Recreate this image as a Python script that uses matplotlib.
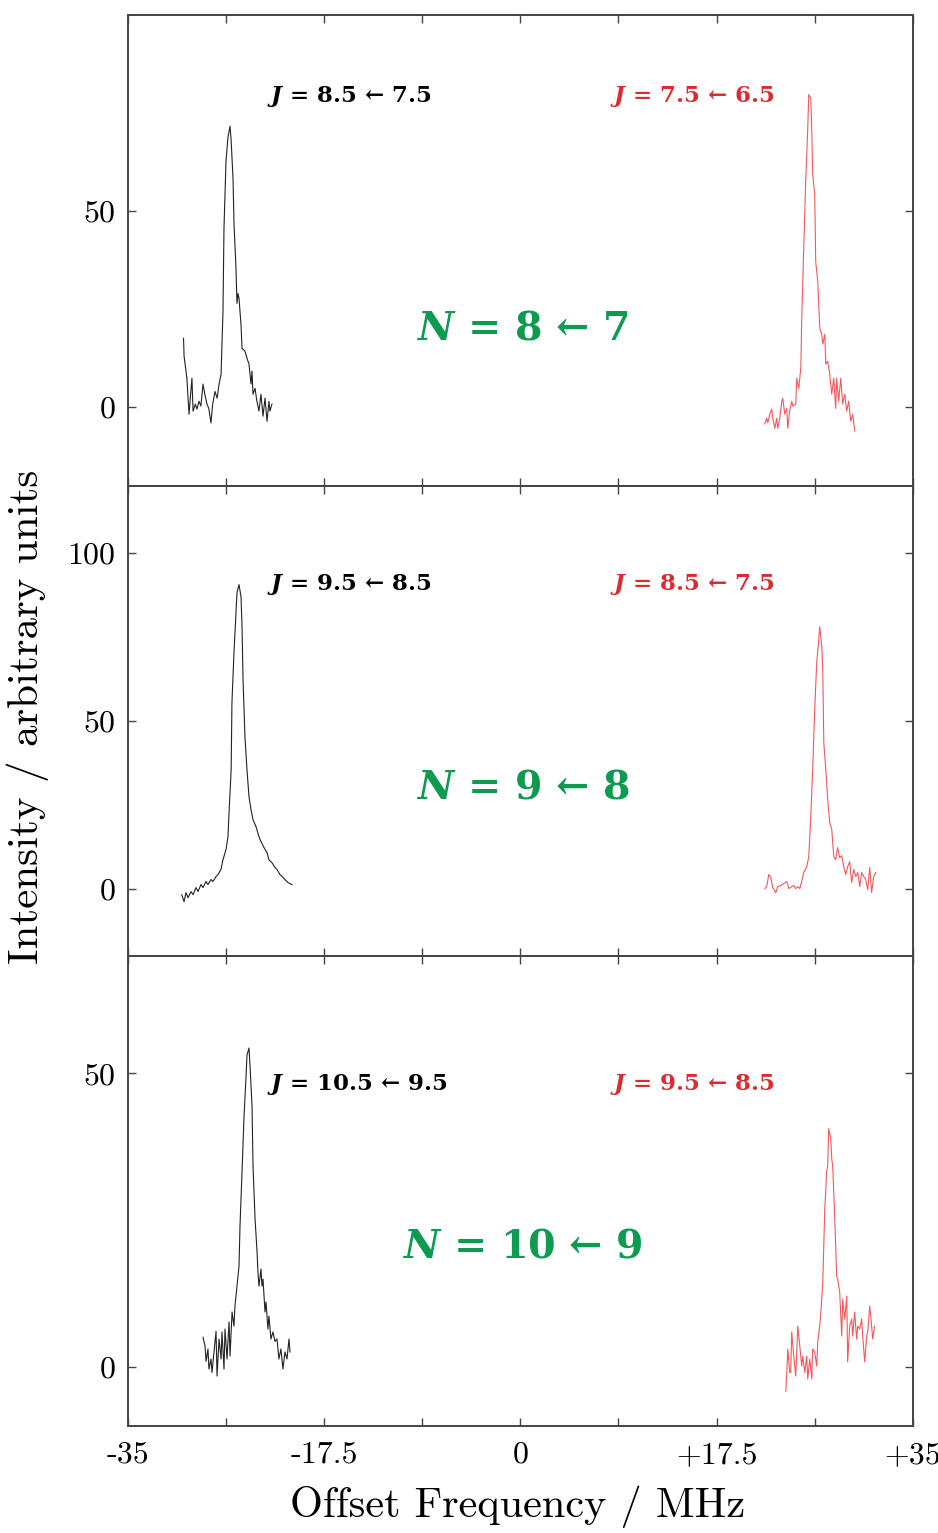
import numpy as np
import matplotlib
matplotlib.use("Agg")
import matplotlib.pyplot as plt

plt.rcParams['mathtext.fontset'] = 'custom'
plt.rcParams['mathtext.rm'] = 'DejaVu Serif'
plt.rcParams['mathtext.bf'] = 'DejaVu Serif:bold'
plt.rcParams['mathtext.bfit'] = 'DejaVu Serif:italic:bold'
plt.rcParams['axes.unicode_minus'] = False

# panel 1 : N = 8 <- 7
x1_low = [-30.05, -30.0, -29.83, -29.75, -29.56, -29.47, -29.3, -29.2, -29.0, -28.85,
          -28.67, -28.5, -28.31, -28.15, -27.96, -27.8, -27.6, -27.45, -27.24, -27.05,
          -26.88, -26.7, -26.53, -26.44, -26.26, -26.08, -25.9, -25.8, -25.63, -25.55,
          -25.37, -25.28, -25.19, -25.1, -24.92, -24.83, -24.57, -24.39, -24.21, -24.03,
          -23.94, -23.85, -23.67, -23.5, -23.32, -23.14, -22.96, -22.78, -22.6, -22.43,
          -22.34, -22.16]
y1_low = [17.6, 13.0, 9.2, 7.4, -1.8, 1.5, 7.4, -1.0, 0.8, -0.5,
          1.5, 0.3, 5.9, 3.3, 0.8, -0.3, -4.0, 0.8, 4.0, 2.3,
          5.9, 8.4, 24.5, 45.7, 62.8, 69.0, 71.7, 68.0, 58.0, 47.0,
          35.5, 26.5, 29.0, 27.8, 21.0, 15.0, 14.3, 12.5, 11.0, 5.9,
          9.2, 3.3, 4.8, 1.5, -1.0, 3.3, -2.3, 2.3, -3.6, 1.5,
          -1.0, 0.8]
x1_up = [21.8, 21.98, 22.07, 22.25, 22.43, 22.52, 22.7, 22.87, 22.96, 23.14,
         23.32, 23.41, 23.59, 23.77, 23.86, 24.03, 24.21, 24.3, 24.57, 24.66,
         24.84, 25.02, 25.1, 25.28, 25.46, 25.64, 25.73, 25.91, 26.0, 26.08,
         26.26, 26.35, 26.53, 26.71, 26.89, 26.98, 27.16, 27.25, 27.42, 27.6,
         27.78, 27.96, 28.13, 28.22, 28.4, 28.58, 28.76, 28.94, 29.11, 29.29,
         29.47, 29.65, 29.83]
y1_up = [-4.3, -2.8, -4.0, -1.8, -0.5, -2.8, -5.4, -2.8, -5.4, -2.8,
         1.5, 2.3, -1.8, -0.3, -5.4, -1.0, 1.5, 0.3, 0.8, 7.4,
         4.8, 10.0, 22.0, 40.6, 57.7, 71.2, 79.8, 78.8, 70.4, 59.4,
         54.3, 37.2, 32.1, 20.2, 18.6, 16.1, 18.6, 11.0, 11.7, 8.4,
         3.3, 7.4, -0.3, 7.4, 1.5, 7.4, 0.8, 3.3, -1.0, 1.5,
         -3.6, -1.8, -6.1]

# panel 2 : N = 9 <- 8
x2_low = [-30.21, -30.0, -29.83, -29.65, -29.38, -29.2, -28.94, -28.76, -28.49, -28.31,
          -28.04, -27.87, -27.6, -27.42, -27.15, -26.97, -26.71, -26.53, -26.26, -26.08,
          -25.99, -25.8, -25.73, -25.55, -25.37, -25.28, -25.1, -24.92, -24.83, -24.74,
          -24.57, -24.39, -24.21, -24.03, -23.85, -23.59, -23.32, -23.14, -22.87, -22.6,
          -22.43, -22.16, -21.89, -21.71, -21.45, -21.18, -21.0, -20.73, -20.38]
y2_low = [-1.8, -3.9, -1.2, -2.7, -0.9, -1.8, 0.3, -0.9, 1.2, 0.3,
          2.1, 1.2, 2.7, 2.1, 3.6, 4.2, 5.7, 8.6, 11.6, 15.5,
          22.6, 35.4, 55.4, 70.2, 82.1, 88.1, 90.5, 86.9, 78.0, 62.2,
          45.2, 35.4, 27.4, 23.5, 20.5, 18.5, 15.5, 14.0, 12.2, 10.7,
          8.6, 7.7, 6.3, 5.7, 4.2, 3.3, 2.7, 1.8, 1.2]
x2_up = [21.8, 21.98, 22.16, 22.34, 22.52, 22.79, 22.96, 23.23, 23.5, 23.77,
         23.95, 24.21, 24.39, 24.57, 24.75, 24.93, 25.1, 25.28, 25.55, 25.73,
         25.91, 26.08, 26.26, 26.44, 26.62, 26.71, 26.89, 26.98, 27.07, 27.25,
         27.42, 27.6, 27.78, 27.96, 28.13, 28.31, 28.49, 28.67, 28.85, 29.03,
         29.2, 29.38, 29.56, 29.74, 29.92, 30.1, 30.28, 30.45, 30.63, 30.81,
         30.99, 31.17, 31.34, 31.52, 31.7]
y2_up = [0.0, 0.6, 4.2, 3.3, 0.3, -1.2, 0.6, 0.9, 1.5, 2.1,
         0.0, 0.6, 0.9, 0.0, 0.6, 0.0, 2.1, 4.8, 6.5, 9.5,
         21.4, 35.4, 53.3, 67.3, 74.1, 78.0, 72.0, 65.2, 43.5, 35.4,
         26.5, 19.6, 17.6, 9.5, 8.6, 12.2, 9.2, 9.8, 6.5, 4.2,
         6.5, 8.0, 1.8, 5.7, 3.6, 4.8, 0.6, 4.8, 3.6, 2.7,
         -0.3, 6.3, -1.2, 3.6, 4.8]

# panel 3 : N = 10 <- 9
x3_low = [-28.31, -28.13, -28.04, -27.87, -27.78, -27.6, -27.51, -27.33, -27.15, -27.06,
          -26.88, -26.7, -26.62, -26.44, -26.35, -26.17, -25.99, -25.9, -25.72, -25.55,
          -25.46, -25.28, -25.1, -25.01, -24.83, -24.65, -24.48, -24.39, -24.21, -24.12,
          -23.94, -23.85, -23.67, -23.49, -23.41, -23.32, -23.14, -23.05, -22.96, -22.78,
          -22.69, -22.52, -22.43, -22.25, -22.07, -21.89, -21.71, -21.54, -21.36, -21.18,
          -21.0, -20.82, -20.64, -20.55]
y3_low = [5.1, 3.6, 1.0, 3.1, -0.3, 1.4, -0.9, 2.6, 6.1, -1.5,
          4.8, 1.4, 6.0, -0.3, 6.5, 1.4, 7.7, 1.9, 9.4, 7.0,
          10.4, 13.8, 17.2, 24.1, 33.3, 42.8, 49.1, 53.1, 54.3, 51.4,
          44.5, 34.3, 25.3, 19.6, 16.2, 13.8, 16.7, 13.8, 15.0, 9.4,
          11.1, 6.5, 8.7, 4.8, 6.0, 4.4, 4.8, 1.4, 3.1, -0.3,
          2.6, 1.4, 4.8, 2.6]
x3_up = [23.68, 23.77, 23.86, 24.03, 24.12, 24.21, 24.39, 24.57, 24.75, 24.93,
         25.1, 25.19, 25.37, 25.55, 25.64, 25.82, 26.0, 26.08, 26.26, 26.44,
         26.53, 26.71, 26.89, 26.98, 27.16, 27.33, 27.42, 27.51, 27.69, 27.78,
         27.87, 28.05, 28.22, 28.31, 28.49, 28.67, 28.76, 28.94, 29.12, 29.2,
         29.38, 29.56, 29.65, 29.83, 30.0, 30.1, 30.28, 30.45, 30.54, 30.72,
         30.9, 30.99, 31.17, 31.34, 31.43, 31.61]
y3_up = [-4.1, -0.9, 3.1, -0.9, -0.9, 6.0, 1.9, -1.5, 7.0, 3.6,
         0.2, 1.9, -0.9, 1.9, -2.0, 1.4, -2.0, 3.1, 2.6, 0.2,
         4.3, 7.0, 11.6, 14.5, 27.0, 33.3, 34.3, 40.6, 38.9, 35.5,
         34.1, 25.3, 15.5, 15.0, 12.8, 5.3, 11.6, 8.2, 12.1, 0.9,
         7.0, 8.2, 5.3, 9.4, 4.8, 7.0, 6.5, 8.2, 5.3, 0.9,
         5.3, 6.0, 10.4, 7.0, 4.8, 7.0]

paneles = [
    dict(xl=x1_low, yl=y1_low, xu=x1_up, yu=y1_up, ylim=(-20, 100), yticks=[0, 50],
         jl="8.5 ← 7.5", ju="7.5 ← 6.5", jy=79.3, n="8 ← 7", ny=20.2),
    dict(xl=x2_low, yl=y2_low, xu=x2_up, yu=y2_up, ylim=(-20, 120), yticks=[0, 50, 100],
         jl="9.5 ← 8.5", ju="8.5 ← 7.5", jy=90.5, n="9 ← 8", ny=30.0),
    dict(xl=x3_low, yl=y3_low, xu=x3_up, yu=y3_up, ylim=(-10, 70), yticks=[0, 50],
         jl="10.5 ← 9.5", ju="9.5 ← 8.5", jy=48.1, n="10 ← 9", ny=20.5),
]

xticks = [-35, -26.25, -17.5, -8.75, 0, 8.75, 17.5, 26.25, 35]
xticklabels = ["-35", "", "-17.5", "", "0", "", "+17.5", "", "+35"]

verde = "#0e9a50"
rojo_txt = "#dc2a2e"
rojo_linea = "#f2585c"
marco = "#444444"

fig, axs = plt.subplots(3, 1, figsize=(9.38, 15.33), dpi=100, sharex=True)
fig.subplots_adjust(left=0.1365, right=0.973, top=0.990, bottom=0.0698, hspace=0)

for ax, p in zip(axs, paneles):
    ax.plot(p["xl"], p["yl"], color="#222222", lw=0.8)
    ax.plot(p["xu"], p["yu"], color=rojo_linea, lw=0.8)
    ax.set_xlim(-35, 35)
    ax.set_ylim(*p["ylim"])
    ax.set_yticks(p["yticks"])
    ax.set_yticklabels([str(v) for v in p["yticks"]], fontfamily="cmr10", fontsize=23)
    ax.tick_params(direction="in", top=True, right=True, length=6, width=1,
                   color=marco, pad=9)
    for s in ax.spines.values():
        s.set_color(marco)
        s.set_linewidth(1.4)
    ax.text(-22.6, p["jy"], r"$\mathbfit{J}$ = " + p["jl"], color="black",
            fontsize=16.5, fontweight="bold", fontfamily="DejaVu Serif", va="center")
    ax.text(7.98, p["jy"], r"$\mathbfit{J}$ = " + p["ju"], color=rojo_txt,
            fontsize=16.5, fontweight="bold", fontfamily="DejaVu Serif", va="center")
    ax.text(0.2, p["ny"], r"$\mathbfit{N}$ = " + p["n"], color=verde,
            fontsize=28.5, fontweight="bold", fontfamily="DejaVu Serif",
            ha="center", va="center")

axs[-1].set_xticks(xticks)
axs[-1].set_xticklabels(xticklabels, fontfamily="cmr10", fontsize=23)
axs[-1].tick_params(axis="x", pad=11)

fig.text(518 / 938, 1 - 1507 / 1533, "Offset Frequency / MHz", fontfamily="cmr10",
         fontsize=30.5, ha="center", va="center")
fig.text(28 / 938, 1 - 717 / 1533, "Intensity / arbitrary units", fontfamily="cmr10",
         fontsize=31, ha="center", va="center", rotation=90)

fig.savefig("out.png", dpi=100)
